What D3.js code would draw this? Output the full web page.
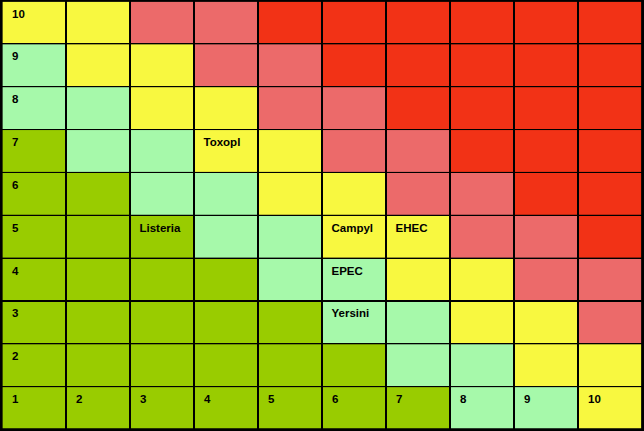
<!DOCTYPE html>
<html><head><meta charset="utf-8">
<script src="https://cdn.jsdelivr.net/npm/d3@7"></script>
<style>html,body{margin:0;padding:0;background:#fff;}svg{display:block;}</style>
</head><body>
<script>
// Columns (x) and rows (y) of the risk matrix
const columns = [1,2,3,4,5,6,7,8,9,10];
const rows = [10,9,8,7,6,5,4,3,2,1];
const columnLabels = ["1","2","3","4","5","6","7","8","9","10"];
const rowLabels = ["10","9","8","7","6","5","4","3","2"];
// Risk class per cell, rows listed top (10) to bottom (1), columns 1..10
const levels = [
  [2,2,3,3,4,4,4,4,4,4],
  [1,2,2,3,3,4,4,4,4,4],
  [1,1,2,2,3,3,4,4,4,4],
  [0,1,1,2,2,3,3,4,4,4],
  [0,0,1,1,2,2,3,3,4,4],
  [0,0,0,1,1,2,2,3,3,4],
  [0,0,0,0,1,1,2,2,3,3],
  [0,0,0,0,0,1,1,2,2,3],
  [0,0,0,0,0,0,1,1,2,2],
  [0,0,0,0,0,0,0,1,1,2]
];
const levelColors = ["#99cc00","#a6f9aa","#f8f840","#ec6a6a","#f23216"];
// Pathogen labels: name, column, row
const pathogens = ["Toxopl","Listeria","Campyl","EHEC","EPEC","Yersini"];
const pathogenCol = [4,3,6,7,6,6];
const pathogenRow = [7,5,5,5,4,3];

const W = 644, H = 431;
const svg = d3.select("body").append("svg").attr("width", W).attr("height", H);
svg.append("rect").attr("x",0).attr("y",0).attr("width",W).attr("height",H).attr("fill","#000");

const x = d3.scaleBand().domain(columns).range([2, 642]).padding(0);
const y = d3.scaleBand().domain(rows).range([1, 429.5]).padding(0);
const color = d3.scaleOrdinal().domain([0,1,2,3,4]).range(levelColors);

const cells = [];
rows.forEach((r, i) => columns.forEach((c, j) => cells.push({r, c, v: levels[i][j]})));

svg.append("g").selectAll("rect").data(cells).join("rect")
  .attr("x", d => x(d.c) + 0.5)
  .attr("y", d => y(d.r) + 0.5)
  .attr("width", x.bandwidth() - 1)
  .attr("height", y.bandwidth() - 1)
  .attr("fill", d => color(d.v));

// grid lines (1px black)
const g = svg.append("g").attr("stroke", "#000").attr("stroke-width", 1.2).attr("shape-rendering","crispEdges");
columns.slice(1).forEach(c => g.append("line").attr("x1", x(c)).attr("x2", x(c)).attr("y1", 0).attr("y2", H));
rows.slice(1).forEach(r => g.append("line").attr("y1", y(r)).attr("y2", y(r)).attr("x1", 0).attr("x2", W));
// outer border
svg.append("rect").attr("x", 1).attr("y", 0.5).attr("width", 641.5).attr("height", 429)
  .attr("fill", "none").attr("stroke", "#000").attr("stroke-width", 2.5);

const font = "'Liberation Sans', Arial, sans-serif";
const txt = svg.append("g").attr("font-family", font).attr("font-weight", "bold").attr("font-size", "11.5px").attr("fill", "#000");
// row labels in column 1
rowLabels.forEach((lab, i) => {
  txt.append("text").attr("x", x(1) + 10).attr("y", y(rows[i]) + 16.5).text(lab);
});
// column labels in row 1
columnLabels.forEach((lab, i) => {
  txt.append("text").attr("x", x(columns[i]) + 10).attr("y", y(1) + 16.5).text(lab);
});
// pathogen labels
pathogens.forEach((p, i) => {
  txt.append("text").attr("x", x(pathogenCol[i]) + 9.5).attr("y", y(pathogenRow[i]) + 16.5).text(p);
});
</script>
</body></html>
